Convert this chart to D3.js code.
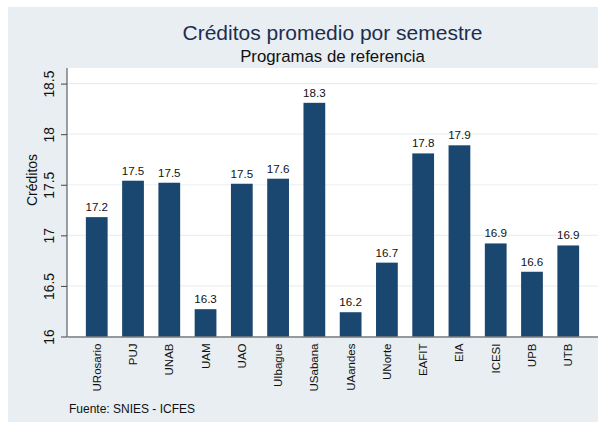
<!DOCTYPE html>
<html>
<head>
<meta charset="utf-8">
<script src="https://cdn.jsdelivr.net/npm/d3@7"></script>
<style>
  body { margin: 0; background: #fff; }
  text { font-family: "Liberation Sans", Arial, Helvetica, sans-serif; }
</style>
</head>
<body>
<svg id="chart"></svg>
<script>
const width = 598;
const height = 427;

const universidades = ["URosario", "PUJ", "UNAB", "UAM", "UAO", "UIbague", "USabana",
  "UAandes", "UNorte", "EAFIT", "EIA", "ICESI", "UPB", "UTB"];
const creditos = [17.18, 17.54, 17.52, 16.27, 17.51, 17.56, 18.31,
  16.24, 16.73, 17.81, 17.89, 16.92, 16.64, 16.90];
const yTicks = [16, 16.5, 17, 17.5, 18, 18.5];

const plot = {left: 67, right: 598, top: 68, bottom: 336.5};

const svg = d3.select("#chart")
  .attr("width", width)
  .attr("height", height);

// fondo del grafico
svg.append("rect")
  .attr("x", 8).attr("y", 7)
  .attr("width", width - 8).attr("height", 415)
  .attr("fill", "#e8eef1");

svg.append("rect")
  .attr("x", plot.left).attr("y", plot.top)
  .attr("width", plot.right - plot.left).attr("height", plot.bottom - plot.top)
  .attr("fill", "#fff");

const x = d3.scaleBand()
  .domain(universidades)
  .range([plot.left, plot.right])
  .paddingInner(0.4)
  .paddingOuter(0.52);

const y = d3.scaleLinear()
  .domain([16, 18.5])
  .range([plot.bottom, 83.6]);

// grid
svg.append("g")
  .selectAll("line")
  .data(yTicks)
  .join("line")
  .attr("x1", plot.left).attr("x2", plot.right)
  .attr("y1", d => y(d)).attr("y2", d => y(d))
  .attr("stroke", "#eaf0f2")
  .attr("stroke-width", 1.2);

// barras
svg.append("g")
  .selectAll("rect")
  .data(creditos)
  .join("rect")
  .attr("x", (d, i) => x(universidades[i]))
  .attr("width", x.bandwidth())
  .attr("y", d => y(d))
  .attr("height", d => y(16) - y(d))
  .attr("fill", "#1a476f");

svg.append("g")
  .selectAll("text")
  .data(creditos)
  .join("text")
  .attr("x", (d, i) => x(universidades[i]) + x.bandwidth() / 2)
  .attr("y", d => y(d) - 6)
  .attr("text-anchor", "middle")
  .attr("font-size", 11.6)
  .attr("fill", "#111")
  .text(d => d3.format(".1f")(d));

// eje y
const yAxis = svg.append("g")
  .attr("transform", `translate(${plot.left},0)`)
  .call(d3.axisLeft(y).tickValues(yTicks).tickSize(6).tickSizeOuter(0).tickFormat(d3.format("")));

yAxis.select(".domain").remove();
yAxis.selectAll(".tick line").attr("stroke", "#444");
yAxis.selectAll(".tick text")
  .attr("x", 0)
  .attr("dy", "0.35em")
  .attr("transform", "translate(-18,0) rotate(-90)")
  .attr("text-anchor", "middle")
  .attr("font-size", 13.9)
  .attr("fill", "#111");

svg.append("line")
  .attr("x1", plot.left).attr("x2", plot.left)
  .attr("y1", plot.top).attr("y2", plot.bottom + 0.5)
  .attr("stroke", "#444");

// eje x
const xAxis = svg.append("g")
  .attr("transform", `translate(0,${plot.bottom})`)
  .call(d3.axisBottom(x).tickSize(0).tickSizeOuter(0));

xAxis.select(".domain").attr("stroke", "#444");
xAxis.selectAll(".tick text")
  .attr("y", 0)
  .attr("dy", "0.35em")
  .attr("transform", "translate(0,7) rotate(-90)")
  .attr("text-anchor", "end")
  .attr("font-size", 11.5)
  .attr("fill", "#111");

svg.append("text")
  .attr("transform", "translate(32,180) rotate(-90)")
  .attr("dy", "0.35em")
  .attr("text-anchor", "middle")
  .attr("font-size", 14)
  .attr("fill", "#111")
  .text("Créditos");

// titulos
const cx = (plot.left + plot.right) / 2;

svg.append("text")
  .attr("x", cx).attr("y", 40)
  .attr("text-anchor", "middle")
  .attr("font-size", 21)
  .attr("fill", "#1e2d4e")
  .text("Créditos promedio por semestre");

svg.append("text")
  .attr("x", cx).attr("y", 62)
  .attr("text-anchor", "middle")
  .attr("font-size", 16.8)
  .attr("fill", "#111")
  .text("Programas de referencia");

svg.append("text")
  .attr("x", 69).attr("y", 413)
  .attr("font-size", 12)
  .attr("fill", "#111")
  .text("Fuente: SNIES - ICFES");
</script>
</body>
</html>
